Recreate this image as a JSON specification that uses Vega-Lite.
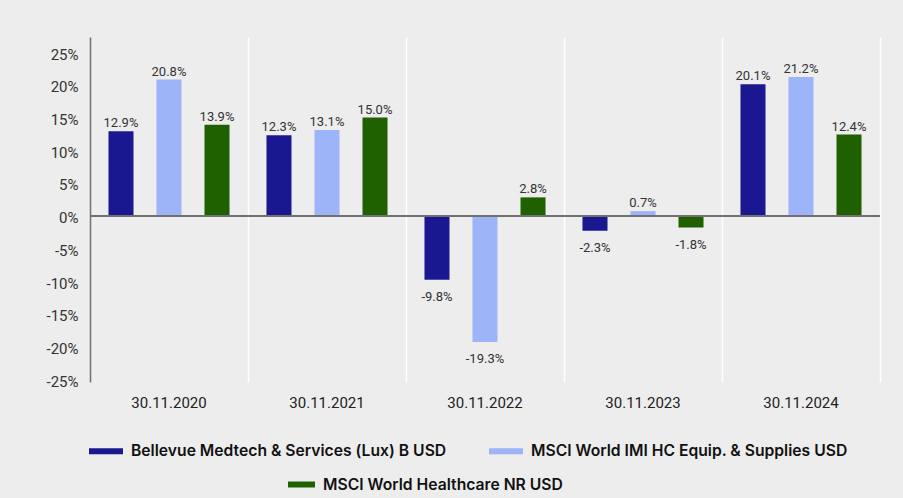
{
  "$schema": "https://vega.github.io/schema/vega-lite/v6.json",
  "width": 790,
  "height": 345,
  "autosize": {"type": "none"},
  "padding": {"left": 90, "top": 37, "right": 23, "bottom": 116},
  "background": "#ededed",
  "config": {
    "view": {"stroke": null},
    "font": "Roboto",
    "locale": {"number": {"decimal": ".", "thousands": ",", "grouping": [3], "currency": ["$", ""], "minus": "-"}}
  },
  "data": {
    "values": [
      {"date": "30.11.2020", "series": "Bellevue Medtech & Services (Lux) B USD", "value": 0.129},
      {"date": "30.11.2020", "series": "MSCI World IMI HC Equip. & Supplies USD", "value": 0.208},
      {"date": "30.11.2020", "series": "MSCI World Healthcare NR USD", "value": 0.139},
      {"date": "30.11.2021", "series": "Bellevue Medtech & Services (Lux) B USD", "value": 0.123},
      {"date": "30.11.2021", "series": "MSCI World IMI HC Equip. & Supplies USD", "value": 0.131},
      {"date": "30.11.2021", "series": "MSCI World Healthcare NR USD", "value": 0.150},
      {"date": "30.11.2022", "series": "Bellevue Medtech & Services (Lux) B USD", "value": -0.098},
      {"date": "30.11.2022", "series": "MSCI World IMI HC Equip. & Supplies USD", "value": -0.193},
      {"date": "30.11.2022", "series": "MSCI World Healthcare NR USD", "value": 0.028},
      {"date": "30.11.2023", "series": "Bellevue Medtech & Services (Lux) B USD", "value": -0.023},
      {"date": "30.11.2023", "series": "MSCI World IMI HC Equip. & Supplies USD", "value": 0.007},
      {"date": "30.11.2023", "series": "MSCI World Healthcare NR USD", "value": -0.018},
      {"date": "30.11.2024", "series": "Bellevue Medtech & Services (Lux) B USD", "value": 0.201},
      {"date": "30.11.2024", "series": "MSCI World IMI HC Equip. & Supplies USD", "value": 0.212},
      {"date": "30.11.2024", "series": "MSCI World Healthcare NR USD", "value": 0.124}
    ]
  },
  "layer": [
    {
      "mark": {"type": "bar", "strokeWidth": 0},
      "encoding": {
        "x": {
          "field": "date", "type": "nominal", "sort": null,
          "scale": {"paddingInner": 0, "paddingOuter": 0},
          "axis": {
            "title": null, "domain": false, "ticks": false, "grid": true,
            "gridColor": "#ffffff", "gridWidth": 1.5, "bandPosition": 1,
            "labelFont": "Roboto", "labelFontSize": 15, "labelColor": "#222222",
            "labelPadding": 13, "labelAngle": 0
          }
        },
        "xOffset": {
          "field": "series", "type": "nominal", "sort": null,
          "scale": {"paddingInner": 0.479, "paddingOuter": 0.385}
        },
        "y": {
          "field": "value", "type": "quantitative",
          "scale": {"domain": [-0.254, 0.273], "nice": false, "zero": false},
          "axis": {
            "title": null, "values": [-0.25, -0.2, -0.15, -0.1, -0.05, 0, 0.05, 0.1, 0.15, 0.2, 0.25],
            "tickCount": 20,
            "format": ".0%", "grid": false, "ticks": false, "labelOverlap": false,
            "domainColor": "#707070", "domainWidth": 1.5, "labelOffset": 2,
            "labelFont": "Roboto", "labelFontSize": 15, "labelColor": "#333333", "labelPadding": 12
          }
        },
        "fill": {
          "field": "series", "type": "nominal",
          "scale": {
            "domain": ["Bellevue Medtech & Services (Lux) B USD", "MSCI World IMI HC Equip. & Supplies USD", "MSCI World Healthcare NR USD"],
            "range": ["#1a1890", "#9db4f9", "#1f6100"]
          },
          "legend": {
            "values": ["Bellevue Medtech & Services (Lux) B USD", "MSCI World IMI HC Equip. & Supplies USD"],
            "orient": "none", "legendX": -1, "legendY": 397, "direction": "horizontal",
            "title": null, "padding": 0,
            "symbolType": "M-1,-0.176H1V0.176H-1Z", "symbolSize": 1156, "symbolStrokeWidth": 0,
            "labelFont": "Inter", "labelFontSize": 15.7, "labelFontWeight": 600, "labelColor": "#111111",
            "labelOffset": 8, "columnPadding": 42, "labelLimit": 500
          }
        },
        "stroke": {
          "field": "series", "type": "nominal",
          "scale": {
            "domain": ["MSCI World Healthcare NR USD", "Bellevue Medtech & Services (Lux) B USD", "MSCI World IMI HC Equip. & Supplies USD"],
            "range": ["#1f6100", "#1a1890", "#9db4f9"]
          },
          "legend": {
            "values": ["MSCI World Healthcare NR USD"],
            "orient": "none", "legendX": 198, "legendY": 434, "direction": "horizontal",
            "title": null, "padding": 0,
            "symbolType": "M-1,-0.222H1V0.222H-1Z", "symbolSize": 729, "symbolStrokeWidth": 0,
            "symbolFillColor": "#1f6100",
            "labelFont": "Inter", "labelFontSize": 15.7, "labelFontWeight": 600, "labelColor": "#111111",
            "labelOffset": 8, "labelLimit": 500
          }
        }
      }
    },
    {
      "transform": [{"filter": "datum.value >= 0"}],
      "mark": {"type": "text", "baseline": "alphabetic", "dy": -4, "fontSize": 13, "font": "Roboto", "color": "#333333"},
      "encoding": {
        "x": {"field": "date", "type": "nominal", "sort": null},
        "xOffset": {"field": "series", "type": "nominal", "sort": null},
        "y": {"field": "value", "type": "quantitative", "title": null},
        "text": {"field": "value", "format": ".1%"}
      }
    },
    {
      "transform": [{"filter": "datum.value < 0"}],
      "mark": {"type": "text", "baseline": "alphabetic", "dy": 21, "fontSize": 13, "font": "Roboto", "color": "#333333"},
      "encoding": {
        "x": {"field": "date", "type": "nominal", "sort": null},
        "xOffset": {"field": "series", "type": "nominal", "sort": null},
        "y": {"field": "value", "type": "quantitative", "title": null},
        "text": {"field": "value", "format": ".1%"}
      }
    },
    {
      "mark": {"type": "rule", "color": "#707070", "strokeWidth": 1.5},
      "encoding": {"y": {"datum": 0}}
    }
  ]
}
